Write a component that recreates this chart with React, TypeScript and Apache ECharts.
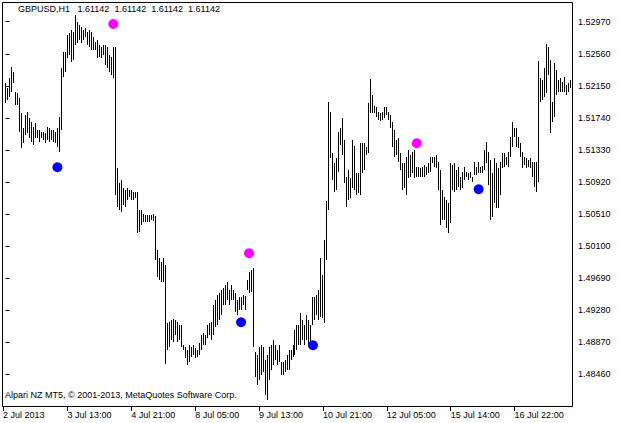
import React, { useEffect, useRef } from "react";
import * as echarts from "echarts";

const chartTitle = "GBPUSD,H1   1.61142  1.61142  1.61142  1.61142";
const copyrightText = "Alpari NZ MT5, © 2001-2013, MetaQuotes Software Corp.";

// Hourly bar highs (one per bar, left to right)
const highs = [
  1.5219, 1.5212, 1.5225, 1.5239, 1.5233, 1.5207, 1.5206, 1.5200, 1.5180, 1.5161,
  1.5178, 1.5182, 1.5174, 1.5169, 1.5162, 1.5168, 1.5159, 1.5159, 1.5156, 1.5156,
  1.5155, 1.5162, 1.5161, 1.5159, 1.5159, 1.5156, 1.5161, 1.5175, 1.5238, 1.5258,
  1.5258, 1.5280, 1.5283, 1.5287, 1.5284, 1.5306, 1.5296, 1.5293, 1.5290, 1.5287,
  1.5289, 1.5284, 1.5287, 1.5284, 1.5278, 1.5271, 1.5274, 1.5267, 1.5265, 1.5267,
  1.5267, 1.5264, 1.5255, 1.5252, 1.5265, 1.5264, 1.5110, 1.5091, 1.5095, 1.5084,
  1.5082, 1.5084, 1.5082, 1.5082, 1.5079, 1.5079, 1.5079, 1.5056, 1.5056, 1.5051,
  1.5050, 1.5050, 1.5050, 1.5050, 1.5051, 1.5049, 1.5005, 1.4995, 1.4990, 1.4995,
  1.4986, 1.4912, 1.4913, 1.4915, 1.4917, 1.4915, 1.4913, 1.4909, 1.4909, 1.4883,
  1.4881, 1.4877, 1.4883, 1.4881, 1.4883, 1.4880, 1.4877, 1.4886, 1.4896, 1.4899,
  1.4896, 1.4909, 1.4912, 1.4913, 1.4935, 1.4941, 1.4947, 1.4950, 1.4954, 1.4956,
  1.4960, 1.4964, 1.4954, 1.4960, 1.4954, 1.4950, 1.4941, 1.4945, 1.4945, 1.4947,
  1.4946, 1.4967, 1.4977, 1.4979, 1.4982, 1.4874, 1.4871, 1.4881, 1.4883, 1.4881,
  1.4864, 1.4871, 1.4881, 1.4883, 1.4890, 1.4883, 1.4877, 1.4883, 1.4862, 1.4862,
  1.4864, 1.4871, 1.4877, 1.4877, 1.4883, 1.4903, 1.4909, 1.4909, 1.4924, 1.4915,
  1.4909, 1.4922, 1.4915, 1.4909, 1.4945, 1.4945, 1.4947, 1.4954, 1.4995, 1.4973,
  1.5018, 1.5068, 1.5194, 1.5182, 1.5129, 1.5116, 1.5123, 1.5156, 1.5161, 1.5174,
  1.5146, 1.5098, 1.5107, 1.5097, 1.5146, 1.5138, 1.5104, 1.5104, 1.5142, 1.5142,
  1.5142, 1.5137, 1.5193, 1.5224, 1.5203, 1.5189, 1.5188, 1.5182, 1.5180, 1.5182,
  1.5188, 1.5188, 1.5182, 1.5178, 1.5169, 1.5159, 1.5146, 1.5148, 1.5129, 1.5116,
  1.5116, 1.5124, 1.5133, 1.5127, 1.5130, 1.5133, 1.5111, 1.5111, 1.5110, 1.5111,
  1.5114, 1.5111, 1.5116, 1.5124, 1.5124, 1.5124, 1.5127, 1.5118, 1.5107, 1.5082,
  1.5073, 1.5069, 1.5065, 1.5116, 1.5114, 1.5116, 1.5107, 1.5111, 1.5098, 1.5105,
  1.5111, 1.5105, 1.5104, 1.5105, 1.5098, 1.5118, 1.5111, 1.5118, 1.5111, 1.5112,
  1.5133, 1.5143, 1.5130, 1.5120, 1.5104, 1.5123, 1.5116, 1.5110, 1.5118, 1.5129,
  1.5129, 1.5124, 1.5130, 1.5150, 1.5169, 1.5161, 1.5161, 1.5150, 1.5142, 1.5130,
  1.5124, 1.5123, 1.5120, 1.5123, 1.5118, 1.5118, 1.5118, 1.5247, 1.5225, 1.5223,
  1.5238, 1.5269, 1.5264, 1.5248, 1.5194, 1.5244, 1.5235, 1.5223, 1.5225, 1.5220,
  1.5226, 1.5216, 1.5219, 1.5223,
];

// Hourly bar lows
const lows = [
  1.5193, 1.5197, 1.5201, 1.5207, 1.5219, 1.5191, 1.5191, 1.5156, 1.5136, 1.5142,
  1.5152, 1.5155, 1.5148, 1.5143, 1.5139, 1.5148, 1.5148, 1.5143, 1.5148, 1.5146,
  1.5142, 1.5146, 1.5143, 1.5146, 1.5143, 1.5142, 1.5137, 1.5130, 1.5159, 1.5226,
  1.5233, 1.5251, 1.5255, 1.5246, 1.5248, 1.5267, 1.5270, 1.5274, 1.5270, 1.5274,
  1.5278, 1.5267, 1.5264, 1.5261, 1.5261, 1.5261, 1.5251, 1.5252, 1.5251, 1.5255,
  1.5242, 1.5238, 1.5233, 1.5229, 1.5225, 1.5075, 1.5060, 1.5056, 1.5054, 1.5063,
  1.5060, 1.5069, 1.5073, 1.5069, 1.5069, 1.5072, 1.5027, 1.5028, 1.5037, 1.5041,
  1.5041, 1.5041, 1.5041, 1.5043, 1.5042, 1.4992, 1.4970, 1.4967, 1.4964, 1.4964,
  1.4859, 1.4877, 1.4881, 1.4890, 1.4887, 1.4896, 1.4887, 1.4890, 1.4881, 1.4877,
  1.4867, 1.4858, 1.4862, 1.4868, 1.4871, 1.4867, 1.4868, 1.4871, 1.4877, 1.4883,
  1.4883, 1.4892, 1.4896, 1.4890, 1.4896, 1.4906, 1.4909, 1.4915, 1.4922, 1.4935,
  1.4935, 1.4941, 1.4935, 1.4941, 1.4941, 1.4926, 1.4922, 1.4928, 1.4928, 1.4935,
  1.4928, 1.4954, 1.4950, 1.4951, 1.4881, 1.4842, 1.4832, 1.4839, 1.4845, 1.4849,
  1.4819, 1.4813, 1.4839, 1.4851, 1.4858, 1.4864, 1.4858, 1.4862, 1.4845, 1.4845,
  1.4849, 1.4851, 1.4851, 1.4864, 1.4868, 1.4871, 1.4877, 1.4883, 1.4883, 1.4890,
  1.4883, 1.4890, 1.4883, 1.4883, 1.4909, 1.4915, 1.4922, 1.4915, 1.4919, 1.4918,
  1.4912, 1.4992, 1.5056, 1.5123, 1.5095, 1.5079, 1.5082, 1.5105, 1.5139, 1.5127,
  1.5091, 1.5060, 1.5069, 1.5072, 1.5084, 1.5082, 1.5075, 1.5078, 1.5075, 1.5104,
  1.5107, 1.5127, 1.5129, 1.5180, 1.5180, 1.5180, 1.5175, 1.5171, 1.5170, 1.5171,
  1.5174, 1.5178, 1.5171, 1.5161, 1.5137, 1.5124, 1.5127, 1.5118, 1.5107, 1.5082,
  1.5084, 1.5075, 1.5097, 1.5098, 1.5104, 1.5097, 1.5098, 1.5098, 1.5098, 1.5098,
  1.5098, 1.5101, 1.5104, 1.5105, 1.5116, 1.5111, 1.5110, 1.5082, 1.5037, 1.5043,
  1.5043, 1.5033, 1.5027, 1.5040, 1.5082, 1.5079, 1.5082, 1.5086, 1.5082, 1.5084,
  1.5095, 1.5098, 1.5095, 1.5097, 1.5092, 1.5101, 1.5101, 1.5104, 1.5104, 1.5104,
  1.5107, 1.5116, 1.5088, 1.5043, 1.5047, 1.5065, 1.5059, 1.5059, 1.5075, 1.5110,
  1.5111, 1.5114, 1.5111, 1.5124, 1.5137, 1.5150, 1.5137, 1.5136, 1.5124, 1.5110,
  1.5114, 1.5110, 1.5111, 1.5110, 1.5098, 1.5086, 1.5079, 1.5092, 1.5194, 1.5197,
  1.5201, 1.5206, 1.5229, 1.5155, 1.5169, 1.5175, 1.5203, 1.5207, 1.5207, 1.5207,
  1.5207, 1.5203, 1.5207, 1.5212,
];

// Fractal-style markers: bar index and price
const upMarkIndex = [54, 122, 206];
const upMarkPrice = [1.52941, 1.50008, 1.51415];
const downMarkIndex = [26, 118, 154, 237];
const downMarkPrice = [1.51108, 1.49126, 1.48832, 1.50827];

// Axis ranges
const xMin = -1.25;
const xMax = 283.75;
const yMin = 1.480548;
const yMax = 1.532219;

// Time axis ticks (bar index) and labels
const timeTickIndex = [xMin, 31, 63, 95, 127, 159, 191, 223, 255];
const timeTickLabels = [
  "2 Jul 2013", "3 Jul 13:00", "4 Jul 21:00", "8 Jul 05:00", "9 Jul 13:00",
  "10 Jul 21:00", "12 Jul 05:00", "15 Jul 14:00", "16 Jul 22:00",
];

// Price axis ticks
const priceTicks = [
  1.4846, 1.4887, 1.4928, 1.4969, 1.501, 1.5051,
  1.5092, 1.5133, 1.5174, 1.5215, 1.5256, 1.5297,
];

const FONT = "'Liberation Sans', Arial, sans-serif";

export default function App() {
  const ref = useRef<HTMLDivElement>(null);

  useEffect(() => {
    if (!ref.current) return;
    const chart = echarts.init(ref.current, null, { renderer: "svg" });
    const barData = highs.map((h, i) => [i, lows[i], h]);
    const upData = upMarkIndex.map((k, i) => [k, upMarkPrice[i]]);
    const downData = downMarkIndex.map((k, i) => [k, downMarkPrice[i]]);

    chart.setOption({
      animation: false,
      backgroundColor: "#ffffff",
      grid: { left: 2, top: 2, width: 570, height: 404, show: false },
      xAxis: {
        type: "value",
        min: xMin,
        max: xMax,
        axisLine: { show: false },
        splitLine: { show: false },
        axisTick: {
          show: true,
          length: 5,
          customValues: timeTickIndex,
          lineStyle: { color: "#000", width: 1 },
        },
        axisLabel: {
          show: true,
          customValues: timeTickIndex,
          formatter: (v: number) => {
            let best = 0;
            let bd = Infinity;
            timeTickIndex.forEach((t, i) => {
              const d = Math.abs(t - v);
              if (d < bd) { bd = d; best = i; }
            });
            return timeTickLabels[best];
          },
          align: "left",
          margin: 4,
          color: "#000",
          fontSize: 9,
          fontFamily: FONT,
        },
      },
      yAxis: {
        type: "value",
        position: "right",
        min: yMin,
        max: yMax,
        axisLine: { show: false },
        splitLine: { show: false },
        axisTick: {
          show: true,
          length: 4,
          customValues: priceTicks,
          lineStyle: { color: "#000", width: 1 },
        },
        axisLabel: {
          show: true,
          customValues: priceTicks,
          formatter: (v: number) => v.toFixed(5),
          align: "left",
          margin: 6,
          color: "#000",
          fontSize: 9,
          fontFamily: FONT,
        },
      },
      graphic: [
        {
          type: "rect",
          silent: true,
          z: 100,
          shape: { x: 2.5, y: 2.5, width: 570, height: 404 },
          style: { fill: null, stroke: "#000", lineWidth: 1 },
        },
        {
          type: "text",
          left: 18,
          top: 4,
          silent: true,
          style: { text: chartTitle, fill: "#000", font: `9px ${FONT}` },
        },
        {
          type: "text",
          left: 5,
          top: 390,
          silent: true,
          style: { text: copyrightText, fill: "#000", font: `9px ${FONT}` },
        },
      ],
      series: [
        {
          type: "custom",
          silent: true,
          encode: { x: 0, y: [1, 2] },
          data: barData,
          renderItem: (params: any, api: any) => {
            const i = api.value(0);
            const p1 = api.coord([i, api.value(1)]);
            const p2 = api.coord([i, api.value(2)]);
            const x = Math.floor(p1[0] + 0.01) + 0.5;
            return {
              type: "line",
              shape: { x1: x, y1: Math.round(p1[1]), x2: x, y2: Math.round(p2[1]) },
              style: { stroke: "#000", lineWidth: 1 },
            };
          },
        },
        {
          type: "scatter",
          silent: true,
          symbol: "circle",
          symbolSize: 10,
          data: upData,
          itemStyle: { color: "#ff00ff", opacity: 1 },
        },
        {
          type: "scatter",
          silent: true,
          symbol: "circle",
          symbolSize: 10,
          data: downData,
          itemStyle: { color: "#0000ff", opacity: 1 },
        },
      ],
    });
    return () => chart.dispose();
  }, []);

  return (
    <div
      ref={ref}
      style={{ position: "absolute", left: 0, top: 0, width: 621, height: 423 }}
    />
  );
}
